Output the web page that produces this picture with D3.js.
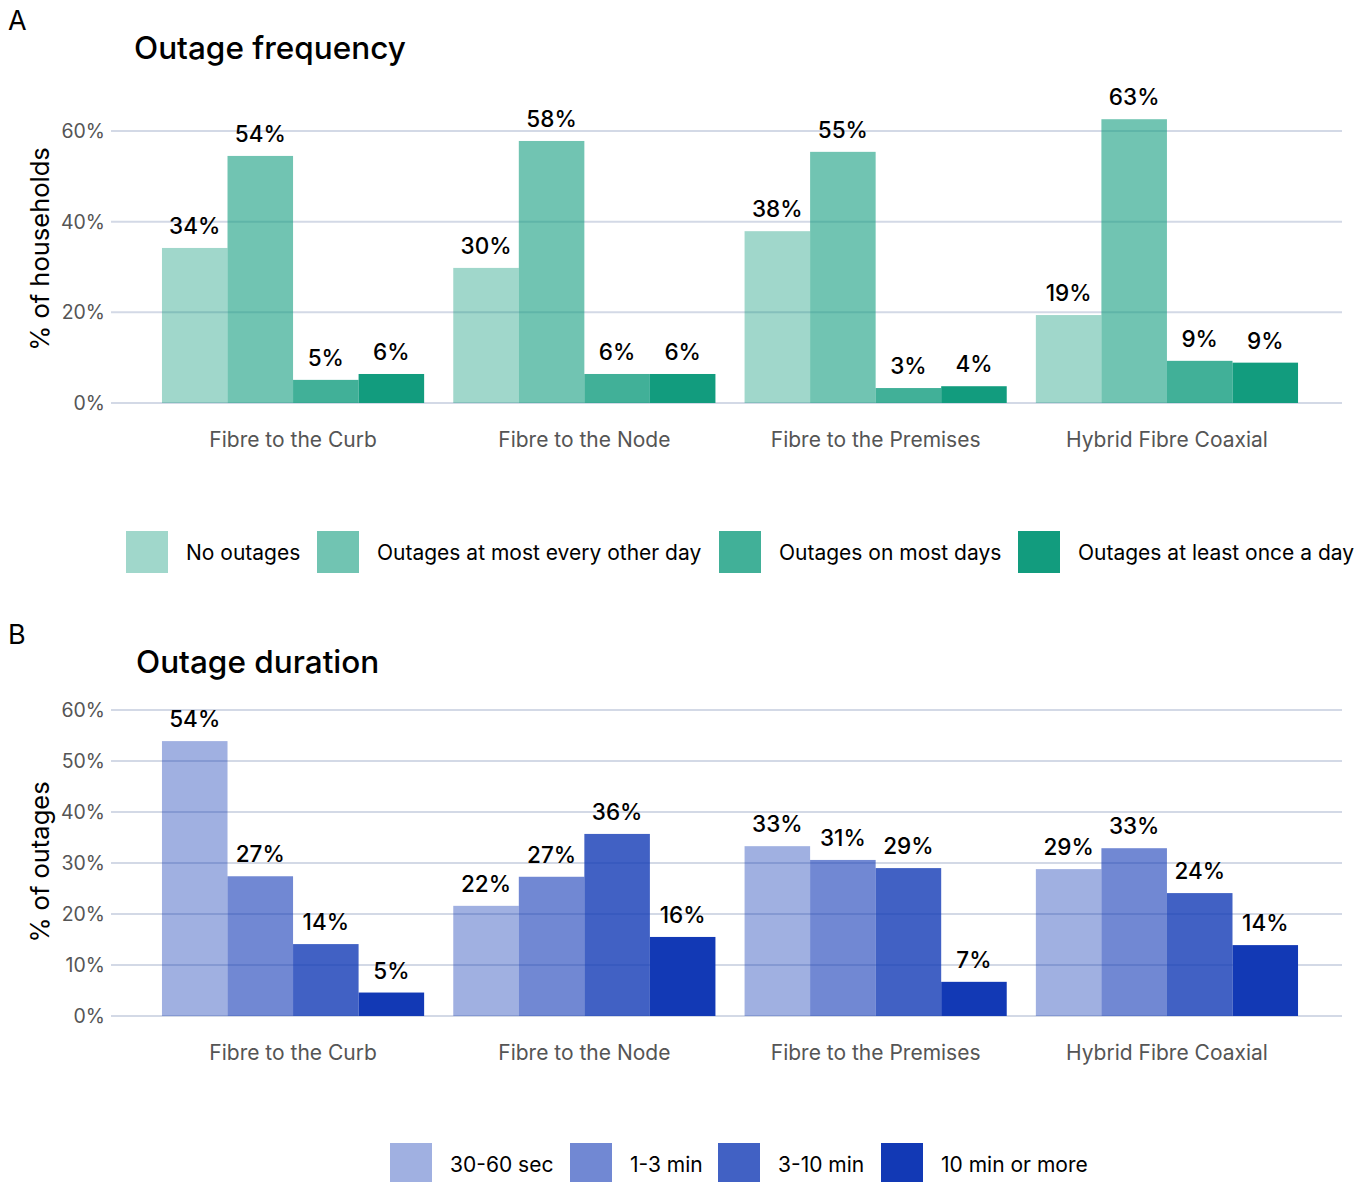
<!DOCTYPE html>
<html><head><meta charset="utf-8">
<script src="https://cdn.jsdelivr.net/npm/d3@7"></script>
<style>body{margin:0;background:#fff}svg{display:block}text{font-family:Inter,"Noto Sans",sans-serif}</style>
</head><body><svg id="c" width="1370" height="1182"></svg>
<script>
const categories = ["Fibre to the Curb","Fibre to the Node","Fibre to the Premises","Hybrid Fibre Coaxial"];
const freqSeries = ["No outages","Outages at most every other day","Outages on most days","Outages at least once a day"];
const freqValues = [[34.2,54.5,5.1,6.4],[29.8,57.8,6.4,6.4],[37.9,55.4,3.3,3.7],[19.4,62.6,9.3,8.9]];
const freqLabels = [[34,54,5,6],[30,58,6,6],[38,55,3,4],[19,63,9,9]];
const freqTicks = [0,20,40,60];
const durSeries = ["30-60 sec","1-3 min","3-10 min","10 min or more"];
const durValues = [[53.9,27.4,14.1,4.6],[21.6,27.3,35.7,15.5],[33.3,30.6,29.0,6.7],[28.8,32.9,24.1,13.9]];
const durLabels = [[54,27,14,5],[22,27,36,16],[33,31,29,7],[29,33,24,14]];
const durTicks = [0,10,20,30,40,50,60];
const opacities = [0.4,0.6,0.8,1];

const svg = d3.select("#c");

function panel(o){
  const g = svg.append("g");
  const y = d3.scaleLinear().domain([0,60]).range([o.y0,o.y60]);
  const x = d3.scaleBand().domain(categories).range([147.4,1312.6]).paddingInner(0.1).paddingOuter(0.05);
  const xs = d3.scaleBand().domain(d3.range(4)).range([0,x.bandwidth()]);
  g.append("text").attr("x",8).attr("y",o.letterY).attr("font-size",27).attr("fill","#000").text(o.letter);
  g.append("text").attr("x",o.titleX).attr("y",o.titleY).attr("font-size",31.5).attr("font-weight",500).attr("fill","#000").text(o.title);
  g.selectAll(".grid").data(o.ticks).join("line")
    .attr("x1",111).attr("x2",1342).attr("y1",d=>y(d)).attr("y2",d=>y(d))
    .attr("stroke","#d3d9e6").attr("stroke-width",2);
  g.selectAll(".tk").data(o.ticks).join("text")
    .attr("x",105).attr("y",d=>y(d)).attr("dy","0.36em").attr("text-anchor","end")
    .attr("font-size",19.5).attr("fill","#555").text(d=>d+"%");
  g.append("text").attr("transform",`translate(${o.axisX},${o.axisY}) rotate(-90)`)
    .attr("text-anchor","middle").attr("font-size",25.5).attr("fill","#000").text(o.axisTitle);
  categories.forEach((c,i)=>{
    const gg = g.append("g").attr("transform",`translate(${x(c)},0)`);
    gg.selectAll("rect").data(o.values[i]).join("rect")
      .attr("x",(d,j)=>xs(j)).attr("width",xs.bandwidth())
      .attr("y",d=>y(d)).attr("height",d=>o.y0-y(d))
      .attr("fill",o.color).attr("fill-opacity",(d,j)=>opacities[j]);
    gg.selectAll("text").data(o.values[i]).join("text")
      .attr("x",(d,j)=>xs(j)+xs.bandwidth()/2).attr("y",d=>y(d)-14)
      .attr("text-anchor","middle").attr("font-size",22.5).attr("font-weight",500).attr("fill","#000")
      .text((d,j)=>o.labels[i][j]+"%");
    g.append("text").attr("x",x(c)+x.bandwidth()/2).attr("y",o.y0+44)
      .attr("text-anchor","middle").attr("font-size",21).attr("fill","#555").text(c);
  });
  const lg = g.append("g");
  o.series.forEach((s,j)=>{
    lg.append("rect").attr("x",o.legX[j]).attr("y",o.legY-21).attr("width",42).attr("height",42)
      .attr("fill",o.color).attr("fill-opacity",opacities[j]);
    lg.append("text").attr("x",o.legX[j]+60).attr("y",o.legY).attr("dy","0.36em")
      .attr("font-size",21).attr("fill","#000").text(s);
  });
}

panel({letter:"A",letterY:30,title:"Outage frequency",titleX:134,titleY:59,y0:403,y60:131,
  ticks:freqTicks,axisTitle:"% of households",axisX:49,axisY:249,values:freqValues,labels:freqLabels,
  color:"#129c7e",series:freqSeries,legX:[126,317,719,1018],legY:552});
panel({letter:"B",letterY:644,title:"Outage duration",titleX:136,titleY:673,y0:1016,y60:710,
  ticks:durTicks,axisTitle:"% of outages",axisX:49,axisY:862,values:durValues,labels:durLabels,
  color:"#1239b5",series:durSeries,legX:[390,570,718,881],legY:1164});
</script></body></html>
